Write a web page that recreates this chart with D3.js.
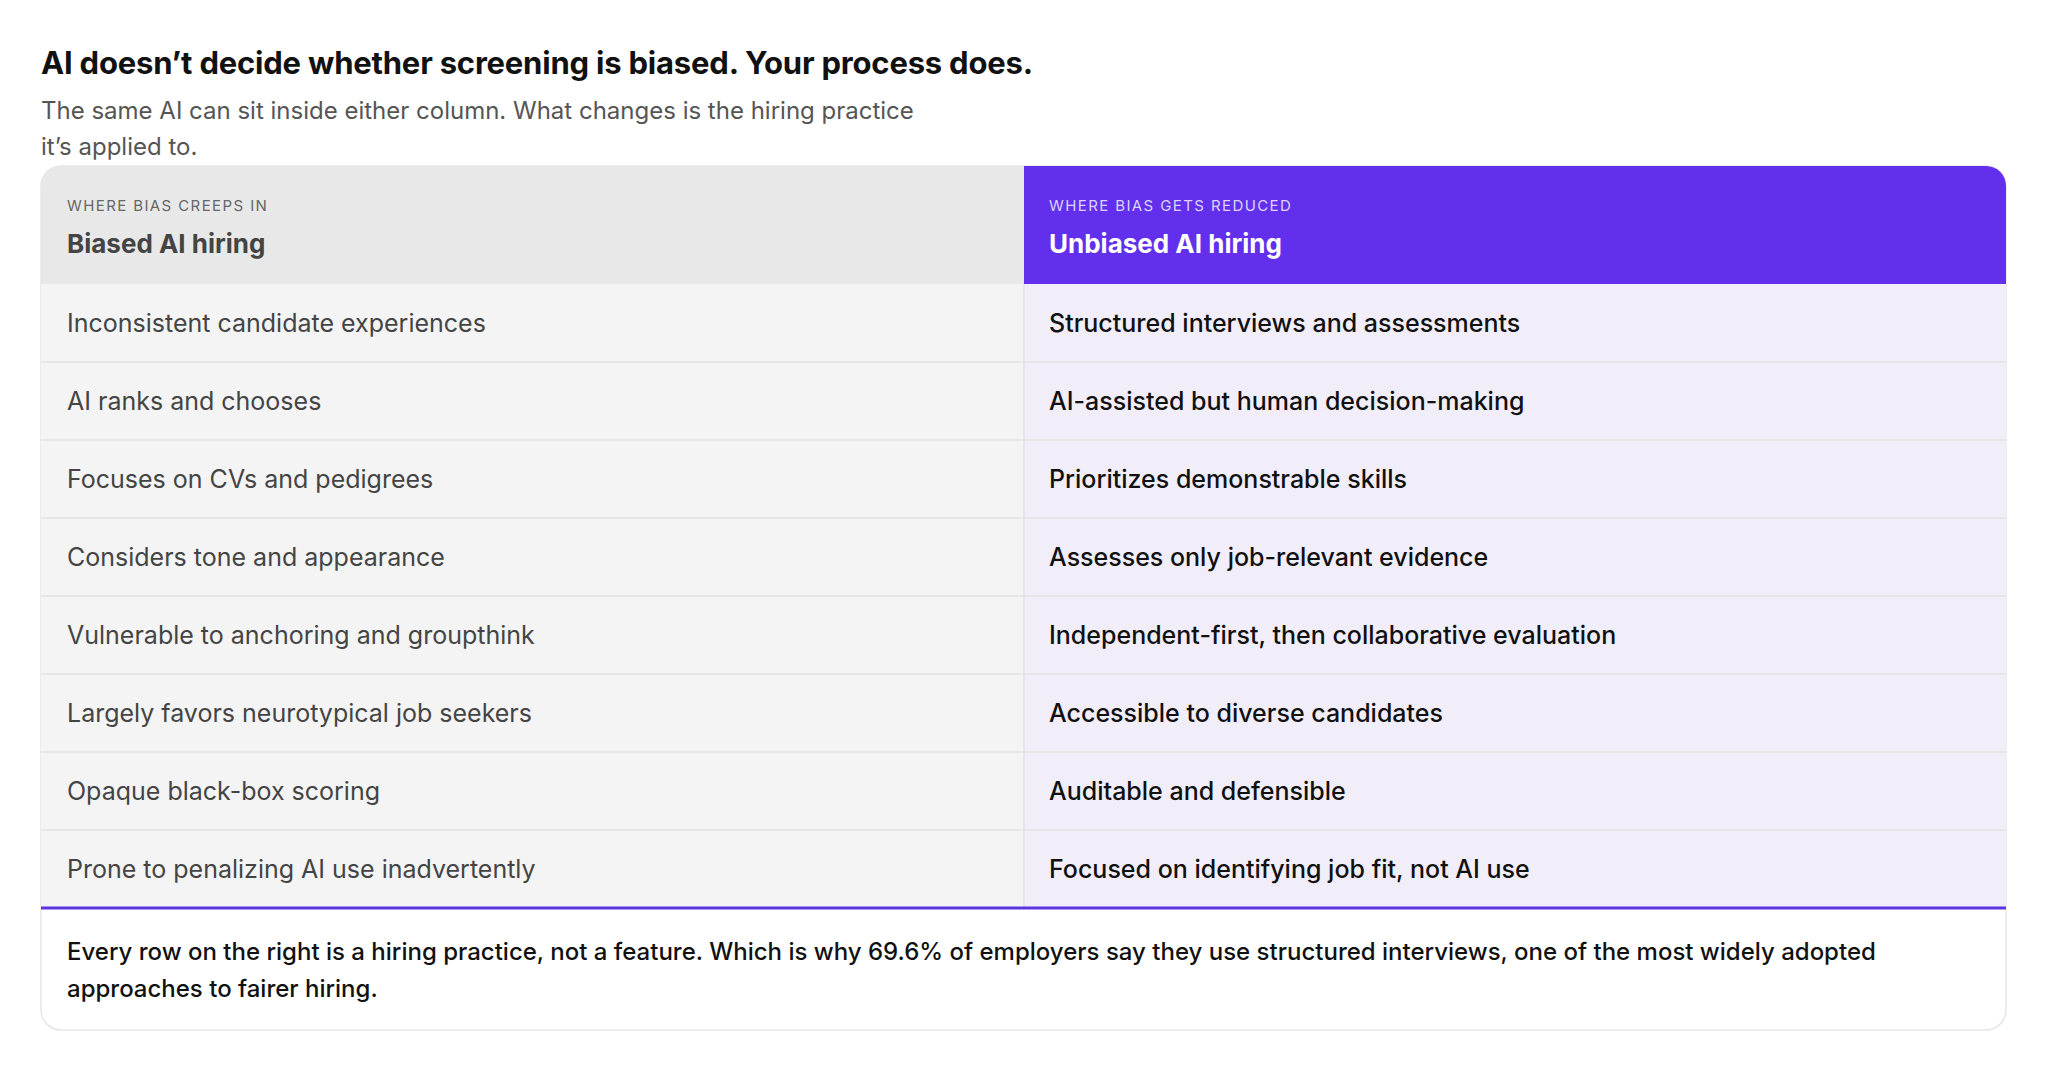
<!DOCTYPE html>
<html><head><meta charset="utf-8">
<script src="https://cdn.jsdelivr.net/npm/d3@7"></script>
<style>
body{margin:0;background:#fff;font-family:Inter,"Noto Sans",sans-serif;}
</style></head>
<body><svg id="chart" width="2048" height="1072"></svg>
<script>
var title = "AI doesn\u2019t decide whether screening is biased. Your process does.";
var subtitle = ["The same AI can sit inside either column. What changes is the hiring practice", "it\u2019s applied to."];
var columnLabels = ["WHERE BIAS CREEPS IN", "WHERE BIAS GETS REDUCED"];
var columnTitles = ["Biased AI hiring", "Unbiased AI hiring"];
var biased = ["Inconsistent candidate experiences", "AI ranks and chooses", "Focuses on CVs and pedigrees",
  "Considers tone and appearance", "Vulnerable to anchoring and groupthink", "Largely favors neurotypical job seekers",
  "Opaque black-box scoring", "Prone to penalizing AI use inadvertently"];
var unbiased = ["Structured interviews and assessments", "AI-assisted but human decision-making", "Prioritizes demonstrable skills",
  "Assesses only job-relevant evidence", "Independent-first, then collaborative evaluation", "Accessible to diverse candidates",
  "Auditable and defensible", "Focused on identifying job fit, not AI use"];
var footnote = ["Every row on the right is a hiring practice, not a feature. Which is why 69.6% of employers say they use structured interviews, one of the most widely adopted",
  "approaches to fairer hiring."];

var svg = d3.select('#chart');
var left = 41, right = 2006, mid = 1024, tTop = 166, headH = 118, rowH = 78, bottom = 1030;

svg.append('text').attr('x', 41).attr('y', 74).attr('font-size', 31).attr('font-weight', 700)
  .attr('fill', '#111').attr('letter-spacing', -0.2).text(title);
svg.selectAll('.sub').data(subtitle).enter().append('text').attr('class', 'sub')
  .attr('x', 41).attr('y', function(d, i) { return 119 + i * 36; })
  .attr('font-size', 24).attr('fill', '#555').text(function(d) { return d; });

var tableBottom = tTop + headH + rowH * biased.length;
svg.append('rect').attr('x', left).attr('y', tTop).attr('width', right - left).attr('height', bottom - tTop)
  .attr('rx', 20).attr('fill', '#fff').attr('stroke', '#e6e6e6').attr('stroke-width', 1.5);

svg.append('clipPath').attr('id', 'clip').append('rect')
  .attr('x', left).attr('y', tTop).attr('width', right - left).attr('height', bottom - tTop).attr('rx', 20);
var g = svg.append('g').attr('clip-path', 'url(#clip)');
g.append('rect').attr('x', left).attr('y', tTop).attr('width', mid - left).attr('height', headH).attr('fill', '#e8e8e8');
g.append('rect').attr('x', mid).attr('y', tTop).attr('width', right - mid).attr('height', headH).attr('fill', '#6230ec');

var y = d3.scaleBand().domain(d3.range(biased.length)).range([tTop + headH, tableBottom]);
g.selectAll('.rl').data(biased).enter().append('rect').attr('class', 'rl')
  .attr('x', left).attr('y', function(d, i) { return y(i); }).attr('width', mid - left).attr('height', rowH).attr('fill', '#f4f4f4');
g.selectAll('.rr').data(unbiased).enter().append('rect').attr('class', 'rr')
  .attr('x', mid).attr('y', function(d, i) { return y(i); }).attr('width', right - mid).attr('height', rowH).attr('fill', '#f1eefa');
g.selectAll('.sep').data(d3.range(1, biased.length)).enter().append('line').attr('class', 'sep')
  .attr('x1', left).attr('x2', right).attr('y1', function(d) { return y(d); }).attr('y2', function(d) { return y(d); })
  .attr('stroke', '#e2e2e2').attr('stroke-width', 1.5);
g.append('line').attr('x1', mid).attr('x2', mid).attr('y1', tTop + headH).attr('y2', tableBottom)
  .attr('stroke', '#e2e2e2').attr('stroke-width', 1.5);
g.append('line').attr('x1', left).attr('x2', right).attr('y1', tableBottom).attr('y2', tableBottom)
  .attr('stroke', '#5a35e0').attr('stroke-width', 3);

var colX = [67, 1049];
svg.selectAll('.hl').data(columnLabels).enter().append('text').attr('class', 'hl')
  .attr('x', function(d, i) { return colX[i]; }).attr('y', 211).attr('font-size', 15).attr('letter-spacing', 1.4)
  .attr('fill', function(d, i) { return i ? '#ddd3ff' : '#666'; }).text(function(d) { return d; });
svg.selectAll('.ht').data(columnTitles).enter().append('text').attr('class', 'ht')
  .attr('x', function(d, i) { return colX[i]; }).attr('y', 253).attr('font-size', 26).attr('font-weight', 700)
  .attr('fill', function(d, i) { return i ? '#fff' : '#444'; }).text(function(d) { return d; });

svg.selectAll('.tl').data(biased).enter().append('text').attr('class', 'tl')
  .attr('x', colX[0]).attr('y', function(d, i) { return y(i) + rowH / 2 + 9; })
  .attr('font-size', 25).attr('fill', '#444').text(function(d) { return d; });
svg.selectAll('.tr').data(unbiased).enter().append('text').attr('class', 'tr')
  .attr('x', colX[1]).attr('y', function(d, i) { return y(i) + rowH / 2 + 9; })
  .attr('font-size', 25).attr('font-weight', 500).attr('fill', '#111').text(function(d) { return d; });

svg.selectAll('.fn').data(footnote).enter().append('text').attr('class', 'fn')
  .attr('x', 67).attr('y', function(d, i) { return 960 + i * 37; })
  .attr('font-size', 24).attr('font-weight', 500).attr('fill', '#111').text(function(d) { return d; });
</script></body></html>
